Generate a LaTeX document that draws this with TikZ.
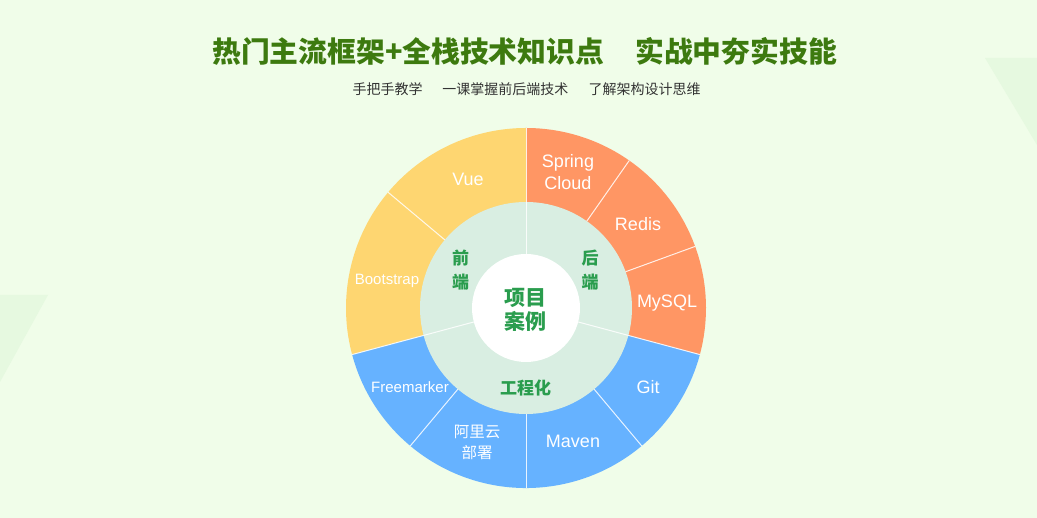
\documentclass[tikz,border=0pt]{standalone}
\usepackage{fontspec}
\setmainfont{Liberation Sans}
\newfontfamily\cjk{Noto Sans CJK SC}
\newfontfamily\lat{Liberation Sans}
\definecolor{bgc}{HTML}{F0FDE9}
\definecolor{tric}{HTML}{E6F9E0}
\definecolor{titlec}{HTML}{3D7A0F}
\definecolor{subc}{HTML}{333333}
\definecolor{yel}{HTML}{FED671}
\definecolor{ora}{HTML}{FF9664}
\definecolor{blu}{HTML}{66B2FF}
\definecolor{ringc}{HTML}{D9EEE2}
\definecolor{grn}{HTML}{2A9D4E}
\tikzset{
  lab/.style={text=white, font=\lat\fontsize{18}{22}\selectfont, align=center, inner sep=0pt},
  labs/.style={text=white, font=\lat\fontsize{15}{18}\selectfont, align=center, inner sep=0pt},
  labc/.style={text=white, font=\cjk\fontsize{15.5}{21}\selectfont, align=center, inner sep=0pt},
  inlab/.style={text=grn, font=\cjk\bfseries\fontsize{17}{24}\selectfont, align=center, inner sep=0pt},
  titlefont/.style={text=titlec, font=\cjk\bfseries\fontsize{28.8}{34}\selectfont, inner sep=0pt},
  sepline/.style={white, line width=1pt, opacity=0.85}
}
\begin{document}
\begin{tikzpicture}[x=1pt,y=1pt]
\useasboundingbox (0,0) rectangle (1037,518);
\fill[bgc] (0,0) rectangle (1037,518);
\fill[tric] (0,136) -- (48,223) -- (0,223) -- cycle;
\fill[tric] (985,460) -- (1037,460) -- (1037,373) -- cycle;

\node[titlefont, anchor=west] (title1) at (212,466.5) {热门主流框架+全栈技术知识点};
\node[titlefont, anchor=east] (title2) at (837,466.5) {实战中夯实技能};
\node (sub) at (526.5,429) {\cjk\fontsize{14}{16}\selectfont\color{subc}手把手教学\hspace{20pt}一课掌握前后端技术\hspace{20pt}了解架构设计思维};

\begin{scope}[shift={(526,210)}]
  % outer coloured bands
  \fill[yel] (0,0) -- (90:180) arc[start angle=90,end angle=195,radius=180] -- cycle;
  \fill[ora] (0,0) -- (-15:180) arc[start angle=-15,end angle=90,radius=180] -- cycle;
  \fill[blu] (0,0) -- (195:180) arc[start angle=195,end angle=345,radius=180] -- cycle;
  % inner ring and centre
  \fill[ringc] (0,0) circle[radius=106];
  \fill[white] (0,0) circle[radius=54];
  % separators across both rings
  \foreach \a in {90,-15,195} \draw[sepline] (\a:54) -- (\a:180);
  % separators in the outer ring only
  \foreach \a in {140,55,20,-50,-90,-130} \draw[sepline] (\a:106) -- (\a:180);
\end{scope}

\node[lab] (vue) at (468,339) {Vue};
\node[lab] (spring) at (568,345.5) {Spring\\Cloud};
\node[lab] (redis) at (638,294) {Redis};
\node[lab] (mysql) at (667,215.3) {MySQL};
\node[lab] (git) at (648,131.3) {Git};
\node[lab] (maven) at (573,76.3) {Maven};
\node[labc] (ali) at (477,75.2) {阿里云\\部署};
\node[labs] (free) at (410,131.3) {Freemarker};
\node[labs] (boot) at (387,237.3) {Bootstrap};

\node[inlab] (fe) at (460.7,247.7) {前\\端};
\node[inlab] (be) at (590,247.7) {后\\端};
\node[inlab] (eng) at (525.7,130.3) {工程化};
\node[text=grn, font=\cjk\bfseries\fontsize{21}{23.5}\selectfont, align=center, inner sep=0pt] (proj) at (525.7,208) {项目\\案例};
\end{tikzpicture}
\end{document}
